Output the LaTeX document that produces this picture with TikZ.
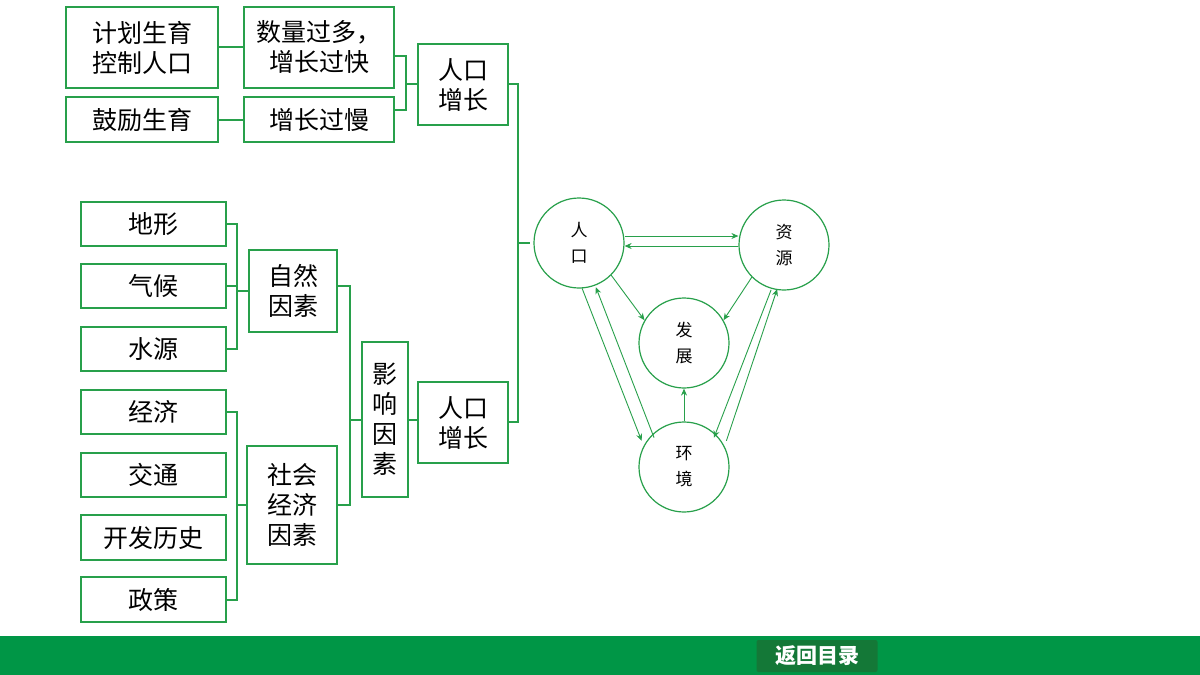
\documentclass[tikz,border=0pt]{standalone}
\usepackage{fontspec}
\newfontfamily\cjk{Noto Sans CJK SC}
\usetikzlibrary{arrows.meta}
\definecolor{gbox}{RGB}{40,160,75}
\definecolor{gbar}{RGB}{0,150,70}
\definecolor{gbtn}{RGB}{20,120,55}
\tikzset{
 bx/.style={draw=gbox,line width=1.5pt,inner sep=0pt,font=\cjk\fontsize{25}{30}\selectfont,align=center},
 cn/.style={draw=gbox,line width=1.2pt},
 cir/.style={circle,draw=gbox,line width=1.2pt,minimum size=90pt,inner sep=0pt,font=\cjk\fontsize{17}{26}\selectfont,align=center},
 ar/.style={draw=gbox,line width=0.9pt,-{Stealth[length=7pt,width=6pt]}}
}
\newcommand{\bxx}[6]{\node[bx,minimum width=#3-#2,minimum height=#5-#4] (#1) at ({(#2+#3)/2},{(#4+#5)/2}) {#6};}
\begin{document}
\begin{tikzpicture}[x=1pt,y=-1pt]
\useasboundingbox (0,0) rectangle (1200,675);
\fill[white] (0,0) rectangle (1200,675);
\bxx{a1}{66}{218}{7}{88}{计划生育\\控制人口}
\bxx{a2}{244}{394}{7}{88}{数量过多，\\增长过快}
\bxx{b1}{66}{218}{97}{142}{鼓励生育}
\bxx{b2}{244}{394}{97}{142}{增长过慢}
\bxx{r1}{418}{508}{44}{125}{人口\\增长}
\bxx{c1}{81}{226}{202}{246}{地形}
\bxx{c2}{81}{226}{264}{308}{气候}
\bxx{c3}{81}{226}{327}{371}{水源}
\bxx{d1}{81}{226}{390}{434}{经济}
\bxx{d2}{81}{226}{453}{497}{交通}
\bxx{d3}{81}{226}{515}{560}{开发历史}
\bxx{d4}{81}{226}{577}{622}{政策}
\bxx{zr}{249}{337}{250}{332}{自然\\因素}
\bxx{sh}{247}{337}{446}{564}{社会\\经济\\因素}
\bxx{yx}{362}{408}{342}{497}{影\\响\\因\\素}
\bxx{r2}{418}{508}{382}{463}{人口\\增长}
% connectors
\draw[cn] (a1.east|-0,47) -- (a2.west|-0,47);
\draw[cn] (b1.east|-0,120) -- (b2.west|-0,120);
\draw[cn] (a2.east|-0,56) -| (406,110) -- (b2.east|-0,110);
\draw[cn] (406,84) -- (r1.west|-0,84);
\draw[cn] (r1.east|-0,84) -| (518,422) -- (r2.east|-0,422);
\coordinate (mid) at (530,243);
\draw[cn] (518,243) -- (mid);
\draw[cn] (c1.east|-0,224) -| (237,349) -- (c3.east|-0,349);
\draw[cn] (c2.east) -- (237,286);
\draw[cn] (237,291) -- (zr.west|-0,291);
\draw[cn] (d1.east|-0,412) -| (237,600) -- (d4.east|-0,600);
\draw[cn] (237,505) -- (sh.west|-0,505);
\draw[cn] (zr.east|-0,286) -| (350,505) -- (sh.east|-0,505);
\draw[cn] (350,420) -- (yx.west|-0,420);
\draw[cn] (yx.east|-0,420) -- (r2.west|-0,420);
% circles
\node[cir] (rk) at (579,243) {人\\口};
\node[cir] (zy) at (784,245) {资\\源};
\node[cir] (fz) at (684,343) {发\\展};
\node[cir] (hj) at (684,467) {环\\境};
\draw[ar] (rk.east|-0,236) -- (zy.west|-0,236);
\draw[ar] (zy.west|-0,246) -- (rk.east|-0,246);
\draw[ar] (rk.-45) -- (fz.150);
\draw[ar] (zy.-135) -- (fz.30);
\draw[ar] (hj) -- (fz);
\draw[ar] ([xshift=-5pt]rk.-80) -- ([xshift=-5pt]hj.145);
\draw[ar] ([xshift=5pt]hj.140) -- ([xshift=5pt]rk.-75);
\draw[ar] ([xshift=-5pt]zy.-100) -- ([xshift=-5pt]hj.40);
\draw[ar] ([xshift=5pt]hj.35) -- ([xshift=5pt]zy.-105);
% bottom bar
\fill[gbar] (0,636) rectangle (1200,675);
\node[fill=gbtn,rounded corners=2pt,minimum width=121pt,minimum height=32pt,text=white,font=\cjk\bfseries\fontsize{21}{24}\selectfont] (btn) at (817,656) {返回目录};
\end{tikzpicture}
\end{document}
